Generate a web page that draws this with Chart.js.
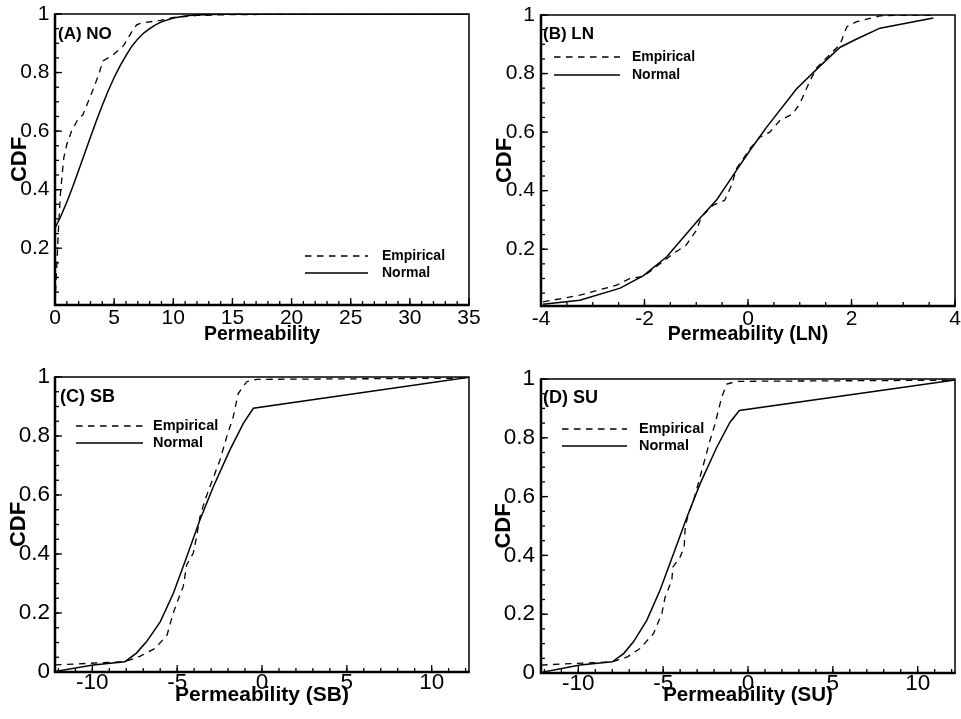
<!DOCTYPE html>
<html><head><meta charset="utf-8">
<script src="https://cdn.jsdelivr.net/npm/chart.js@4.4.1/dist/chart.umd.min.js"></script>
<style>
html,body{margin:0;padding:0;background:#fff;}
#wrap{position:relative;width:961px;height:719px;background:#fff;}
canvas{position:absolute;left:0;top:0;}
</style></head><body>
<div id="wrap">
<canvas id="cA" width="961" height="719"></canvas>
<canvas id="cB" width="961" height="719"></canvas>
<canvas id="cC" width="961" height="719"></canvas>
<canvas id="cD" width="961" height="719"></canvas>
</div>
<script>
// ---------- data ----------
const seriesLabels = ['Empirical', 'Normal'];
const panelLabels = ['(A) NO', '(B) LN', '(C) SB', '(D) SU'];
const xTitles = ['Permeability', 'Permeability (LN)', 'Permeability (SB)', 'Permeability (SU)'];
const yTitle = 'CDF';

// (A) NO
const noEmpX  = [0, 0.15, 0.3, 0.45, 0.6, 0.75, 1.0, 1.4, 2.0, 2.35, 2.8, 3.3, 3.75, 4.05, 4.9, 5.8, 6.5, 6.9, 7.4, 8.9, 10, 12, 15, 20, 25, 30, 35];
const noEmpY  = [0.01, 0.14, 0.27, 0.38, 0.45, 0.51, 0.555, 0.6, 0.645, 0.655, 0.70, 0.75, 0.80, 0.84, 0.86, 0.892, 0.94, 0.963, 0.97, 0.978, 0.988, 0.995, 0.998, 0.999, 1, 1, 1];
const noNormX = [0, 0.5, 1, 1.5, 2, 2.5, 3, 3.5, 4, 4.5, 5, 5.5, 6, 6.5, 7, 7.5, 8, 8.5, 9, 10, 11, 12, 14, 17, 20, 25, 30, 35];
const noNormY = [0.268, 0.31, 0.358, 0.41, 0.466, 0.523, 0.58, 0.635, 0.688, 0.738, 0.783, 0.823, 0.858, 0.89, 0.915, 0.935, 0.95, 0.963, 0.973, 0.986, 0.993, 0.997, 0.999, 1, 1, 1, 1, 1];

// (B) LN
const lnEmpX  = [-3.96, -3.25, -2.54, -2.28, -2.02, -1.7, -1.45, -1.2, -1.0, -0.9, -0.68, -0.45, -0.32, -0.22, 0.04, 0.23, 0.42, 0.62, 0.87, 1.0, 1.2, 1.33, 1.58, 1.78, 1.91, 2.1, 2.55, 3.0, 3.58];
const lnEmpY  = [0.02, 0.043, 0.077, 0.1, 0.107, 0.15, 0.185, 0.213, 0.264, 0.31, 0.35, 0.367, 0.418, 0.476, 0.544, 0.583, 0.6, 0.64, 0.663, 0.697, 0.776, 0.82, 0.865, 0.9, 0.96, 0.977, 0.997, 1, 1];
const lnNormX = [-3.96, -3.25, -2.47, -2.02, -1.57, -0.96, -0.6, -0.22, 0.04, 0.36, 0.94, 1.4, 1.78, 2.1, 2.55, 3.58];
const lnNormY = [0.012, 0.026, 0.067, 0.11, 0.174, 0.30, 0.37, 0.47, 0.538, 0.617, 0.748, 0.827, 0.89, 0.918, 0.955, 0.99];

// (C) SB
const sbEmpX  = [-12.2, -8.08, -7.2, -6.3, -5.6, -5.23, -4.94, -4.64, -4.44, -4.05, -3.85, -3.66, -3.36, -3.07, -2.48, -2.08, -1.7, -1.4, -0.9, -0.31, 12.2];
const sbEmpY  = [0.024, 0.035, 0.053, 0.08, 0.125, 0.2, 0.246, 0.29, 0.363, 0.403, 0.46, 0.525, 0.583, 0.628, 0.718, 0.797, 0.864, 0.944, 0.984, 0.992, 0.996];
const sbNormX = [-12.2, -9.95, -8.08, -7.4, -6.8, -6.0, -5.23, -4.44, -3.66, -2.87, -1.89, -1.1, -0.51, 12.2];
const sbNormY = [0.002, 0.024, 0.035, 0.064, 0.103, 0.17, 0.266, 0.39, 0.515, 0.628, 0.753, 0.843, 0.894, 0.999];

// (D) SU
const suEmpX  = [-12.2, -8.0, -7.1, -6.35, -5.57, -5.08, -4.88, -4.49, -4.43, -4.0, -3.76, -3.7, -3.51, -3.21, -2.72, -2.24, -1.94, -1.55, -1.25, -0.66, 12.2];
const suEmpY  = [0.027, 0.038, 0.055, 0.084, 0.134, 0.202, 0.259, 0.315, 0.36, 0.395, 0.429, 0.497, 0.542, 0.587, 0.689, 0.791, 0.848, 0.938, 0.983, 0.992, 0.996];
const suNormX = [-12.2, -9.9, -8.0, -7.33, -6.75, -5.96, -5.18, -4.39, -3.6, -2.82, -1.84, -1.06, -0.51, 12.2];
const suNormY = [0.002, 0.027, 0.038, 0.066, 0.106, 0.18, 0.282, 0.406, 0.53, 0.644, 0.768, 0.853, 0.893, 0.997];

// tick labels
const noXTicks = [0, 5, 10, 15, 20, 25, 30, 35];
const lnXTicks = [-4, -2, 0, 2, 4];
const sXTicks  = [-10, -5, 0, 5, 10];
const cdfTicksTop = [0.2, 0.4, 0.6, 0.8, 1];
const cdfTicksBottom = [0, 0.2, 0.4, 0.6, 0.8, 1];

// ---------- rendering ----------
const FONT = "'Liberation Sans', Arial, Helvetica, sans-serif";
const fmt = v => String(Math.round(v * 1000) / 1000);
const pts = (xs, ys) => xs.map((x, i) => ({x: x, y: ys[i]}));

const framePlugin = {
  id: 'frame',
  afterDatasetsDraw(chart, args, o) {
    const ctx = chart.ctx, a = chart.chartArea, xs = chart.scales.x, ys = chart.scales.y;
    ctx.save();
    ctx.strokeStyle = '#000';
    ctx.lineWidth = 1.3;
    const tickX = (v, len) => { const p = xs.getPixelForValue(v); ctx.beginPath(); ctx.moveTo(p, a.bottom); ctx.lineTo(p, a.bottom - len); ctx.stroke(); };
    const tickY = (v, len) => { const p = ys.getPixelForValue(v); ctx.beginPath(); ctx.moveTo(a.left, p); ctx.lineTo(a.left + len, p); ctx.stroke(); };
    for (let k = Math.ceil(xs.min / o.minorX - 1e-9); k * o.minorX <= xs.max + 1e-9; k++) tickX(k * o.minorX, o.minorLen);
    for (let k = Math.ceil(ys.min / o.minorY - 1e-9); k * o.minorY <= ys.max + 1e-9; k++) tickY(k * o.minorY, o.minorLen);
    xs.ticks.forEach(t => tickX(t.value, o.majorLen));
    ys.ticks.forEach(t => tickY(t.value, o.majorLen));
    ctx.lineWidth = 1.5;
    ctx.beginPath(); ctx.moveTo(a.left, a.top); ctx.lineTo(a.right, a.top); ctx.lineTo(a.right, a.bottom); ctx.stroke();
    ctx.lineWidth = 2.5;
    ctx.beginPath(); ctx.moveTo(a.left, a.top - 0.75); ctx.lineTo(a.left, a.bottom); ctx.lineTo(a.right + 0.75, a.bottom); ctx.stroke();
    ctx.restore();
  }
};

const legendPlugin = {
  id: 'cdfLegend',
  afterDatasetsDraw(chart, args, o) {
    const ctx = chart.ctx;
    ctx.save();
    ctx.fillStyle = '#000'; ctx.strokeStyle = '#000';
    ctx.textBaseline = 'middle'; ctx.textAlign = 'left';
    ctx.font = 'bold ' + o.labelSize + 'px ' + FONT;
    ctx.fillText(o.labelText, o.labelX, o.labelY);
    ctx.font = 'bold ' + o.size + 'px ' + FONT;
    chart.data.datasets.forEach((ds, i) => {
      const y = o.y0 + i * o.dy;
      ctx.lineWidth = ds.borderWidth;
      ctx.setLineDash(ds.borderDash || []);
      ctx.beginPath(); ctx.moveTo(o.x1, y); ctx.lineTo(o.x2, y); ctx.stroke();
      ctx.setLineDash([]);
      ctx.fillText(ds.label, o.textX, y);
    });
    ctx.restore();
  }
};

function makeChart(id, c) {
  return new Chart(document.getElementById(id), {
    type: 'line',
    data: { datasets: [
      {label: seriesLabels[0], data: pts(c.empX, c.empY), borderColor: '#000', borderWidth: 1.3, borderDash: [6.5, 5.5], pointRadius: 0, tension: 0, fill: false},
      {label: seriesLabels[1], data: pts(c.normX, c.normY), borderColor: '#000', borderWidth: 1.5, pointRadius: 0, tension: 0, fill: false}
    ]},
    options: {
      responsive: false, animation: false, devicePixelRatio: 1,
      events: [],
      layout: {padding: {left: c.padL, top: c.box[1], right: 961 - c.box[2], bottom: 719 - c.xBottom}},
      plugins: {
        legend: {display: false}, tooltip: {enabled: false},
        frame: {minorX: c.minorX, minorY: 0.05, minorLen: 4, majorLen: 7},
        cdfLegend: Object.assign({labelText: c.label}, c.legend)
      },
      scales: {
        x: {
          type: 'linear', min: c.xMin, max: c.xMax,
          grid: {display: false, drawTicks: false}, border: {display: false},
          afterBuildTicks: s => { s.ticks = c.xTicks.map(v => ({value: v})); },
          afterFit: s => { s.height = c.xBottom - c.box[3]; s.paddingLeft = 0; s.paddingRight = 0; },
          ticks: {autoSkip: false, maxRotation: 0, minRotation: 0, padding: c.xPad, color: '#000',
                  font: {family: FONT, size: c.tickSize, lineHeight: 1}, callback: v => fmt(v)},
          title: {display: true, text: c.xTitle, color: '#000', padding: 0,
                  font: {family: FONT, size: c.xTitleSize, weight: 'bold', lineHeight: 1}}
        },
        y: {
          type: 'linear', min: c.yMin, max: 1,
          grid: {display: false, drawTicks: false}, border: {display: false},
          afterBuildTicks: s => { s.ticks = c.yTicks.map(v => ({value: v})); },
          afterFit: s => { s.width = c.box[0] - c.padL; s.paddingTop = 0; s.paddingBottom = 0; },
          ticks: {autoSkip: false, padding: c.yPad, color: '#000',
                  font: {family: FONT, size: c.tickSize, lineHeight: 1}, callback: v => fmt(v)},
          title: {display: true, text: yTitle, color: '#000', padding: 0,
                  font: {family: FONT, size: 22, weight: 'bold', lineHeight: 1}}
        }
      }
    },
    plugins: [framePlugin, legendPlugin]
  });
}

makeChart('cA', {
  empX: noEmpX, empY: noEmpY, normX: noNormX, normY: noNormY,
  box: [55, 14, 469, 305], padL: 9, xBottom: 344,
  xMin: 0, xMax: 35, yMin: 0.006, minorX: 1,
  xTicks: noXTicks, yTicks: cdfTicksTop,
  tickSize: 21, xTitleSize: 19.5, xPad: 3, yPad: 5.5,
  xTitle: xTitles[0], label: panelLabels[0],
  legend: {x1: 305, x2: 368, y0: 256, dy: 17, textX: 382, size: 14, labelX: 58, labelY: 34, labelSize: 17}
});
makeChart('cB', {
  empX: lnEmpX, empY: lnEmpY, normX: lnNormX, normY: lnNormY,
  box: [541, 15, 955, 306], padL: 494, xBottom: 344,
  xMin: -4, xMax: 4, yMin: 0.006, minorX: 0.5,
  xTicks: lnXTicks, yTicks: cdfTicksTop,
  tickSize: 21, xTitleSize: 19.5, xPad: 2.5, yPad: 6,
  xTitle: xTitles[1], label: panelLabels[1],
  legend: {x1: 554, x2: 620, y0: 57, dy: 18, textX: 632, size: 14, labelX: 543, labelY: 34, labelSize: 17}
});
makeChart('cC', {
  empX: sbEmpX, empY: sbEmpY, normX: sbNormX, normY: sbNormY,
  box: [55, 377, 469, 672], padL: 8, xBottom: 706,
  xMin: -12.2, xMax: 12.2, yMin: 0, minorX: 1,
  xTicks: sXTicks, yTicks: cdfTicksBottom,
  tickSize: 22.5, xTitleSize: 21, xPad: 0, yPad: 5,
  xTitle: xTitles[2], label: panelLabels[2],
  legend: {x1: 76, x2: 143, y0: 426, dy: 17, textX: 153, size: 14.5, labelX: 60, labelY: 397, labelSize: 18}
});
makeChart('cD', {
  empX: suEmpX, empY: suEmpY, normX: suNormX, normY: suNormY,
  box: [541, 379, 955, 673], padL: 493, xBottom: 706,
  xMin: -12.2, xMax: 12.2, yMin: 0, minorX: 1,
  xTicks: sXTicks, yTicks: cdfTicksBottom,
  tickSize: 22.5, xTitleSize: 20.5, xPad: 0, yPad: 6,
  xTitle: xTitles[3], label: panelLabels[3],
  legend: {x1: 562, x2: 627, y0: 429, dy: 17, textX: 639, size: 14.5, labelX: 543, labelY: 398, labelSize: 18}
});
</script>
</body></html>
